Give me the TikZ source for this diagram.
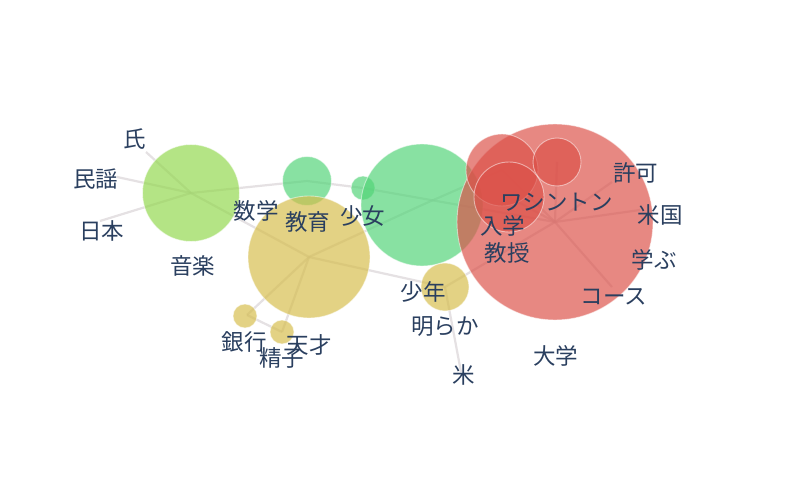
\documentclass[tikz,border=0pt]{standalone}
\usepackage{fontspec}
\newfontfamily\jp{Noto Sans CJK JP}
\definecolor{txt}{HTML}{2A3F5F}
\definecolor{edgec}{RGB}{212,206,209}
\definecolor{cRed}{RGB}{220,80,72}
\definecolor{cTeal}{RGB}{81,212,119}
\definecolor{cLime}{RGB}{145,216,76}
\definecolor{cYel}{RGB}{214,189,74}
\tikzset{
  edge/.style={draw=edgec, line width=2.2pt, draw opacity=0.6},
  bub/.style={circle, inner sep=0pt, outer sep=0pt, draw=white, line width=0.9pt, draw opacity=0.5, fill opacity=0.68},
  lbl/.style={text=txt, font=\jp\fontsize{22.5}{27}\selectfont, inner sep=0pt}
}
\begin{document}
\begin{tikzpicture}[x=1pt,y=-1pt]
\fill[white] (0,0) rectangle (787,481);
\useasboundingbox (0,0) rectangle (787,481);
% positions
\coordinate (pA) at (191,193);
\coordinate (pShi) at (146,152);
\coordinate (pMin) at (117,177);
\coordinate (pNih) at (100,221);
\coordinate (pB) at (307,181);
\coordinate (pC) at (309,257);
\coordinate (pD) at (363,188);
\coordinate (pE) at (422,205);
\coordinate (pF) at (445,287);
\coordinate (pBank) at (247,315);
\coordinate (pSei) at (282,332);
\coordinate (pRB) at (555,222);
\coordinate (pRM) at (502,170);
\coordinate (pRD) at (509,197);
\coordinate (pRS) at (557,162);
\coordinate (pKyo) at (612,182);
\coordinate (pBei) at (640,210);
\coordinate (pCou) at (612,287);
\coordinate (pKome) at (461,372);
% edges
\draw[edge] (pA) -- (pShi);
\draw[edge] (pA) -- (pMin);
\draw[edge] (pA) -- (pNih);
\draw[edge] (pA) -- (pB);
\draw[edge] (pA) -- (pC);
\draw[edge] (pB) -- (pD);
\draw[edge] (pD) -- (pRB);
\draw[edge] (pC) -- (pE);
\draw[edge] (pE) -- (pRM);
\draw[edge] (pC) -- (pF);
\draw[edge] (pC) -- (pBank);
\draw[edge] (pC) -- (pSei);
\draw[edge] (pBank) -- (pSei);
\draw[edge] (pF) -- (pKome);
\draw[edge] (pF) -- (pRB);
\draw[edge] (pRB) -- (pRS);
\draw[edge] (pRB) -- (pRM);
\draw[edge] (pRB) -- (pRD);
\draw[edge] (pRB) -- (pKyo);
\draw[edge] (pRB) -- (pBei);
\draw[edge] (pRB) -- (pCou);
% bubbles
\node[bub, fill=cLime, minimum size=97pt] (bA) at (pA) {};
\node[bub, fill=cTeal, minimum size=49pt] (bB) at (pB) {};
\node[bub, fill=cYel, minimum size=122pt] (bC) at (pC) {};
\node[bub, fill=cTeal, minimum size=24pt] (bD) at (pD) {};
\node[bub, fill=cTeal, minimum size=122pt] (bE) at (pE) {};
\node[bub, fill=cYel, minimum size=48pt] (bF) at (pF) {};
\node[bub, fill=cYel, minimum size=24pt] (bBank) at (245,316) {};
\node[bub, fill=cYel, minimum size=24pt] (bSei) at (pSei) {};
\node[bub, fill=cRed, minimum size=196pt] (bRB) at (pRB) {};
\node[bub, fill=cRed, minimum size=72pt] (bRM) at (pRM) {};
\node[bub, fill=cRed, minimum size=70pt] (bRD) at (pRD) {};
\node[bub, fill=cRed, minimum size=48pt] (bRS) at (pRS) {};
% labels
\node[lbl] (tShi) at (135,139) {氏};
\node[lbl] (tMin) at (95.5,179) {民謡};
\node[lbl] (tNih) at (101.5,230.5) {日本};
\node[lbl] (tOng) at (192.5,265.5) {音楽};
\node[lbl] (tSug) at (256,211) {数学};
\node[lbl] (tKyoi) at (307.5,222) {教育};
\node[lbl] (tSho) at (362.5,216) {少女};
\node[lbl] (tGin) at (244,341.7) {銀行};
\node[lbl] (tSei) at (281.5,357.5) {精子};
\node[lbl] (tTen) at (309,345) {天才};
\node[lbl] (tShon) at (423,292) {少年};
\node[lbl] (tAki) at (445,327) {明らか};
\node[lbl] (tKome) at (464,375) {米};
\node[lbl] (tDai) at (555.5,355.5) {大学};
\node[lbl] (tNyu) at (502.5,226) {入学};
\node[lbl] (tKyoj) at (507,253) {教授};
\node[lbl] (tWas) at (556.5,202) {ワシントン};
\node[lbl] (tKyok) at (635.5,172.5) {許可};
\node[lbl] (tBei) at (660,215) {米国};
\node[lbl] (tMan) at (654,260) {学ぶ};
\node[lbl] (tCou) at (614,297) {コース};
\end{tikzpicture}
\end{document}
